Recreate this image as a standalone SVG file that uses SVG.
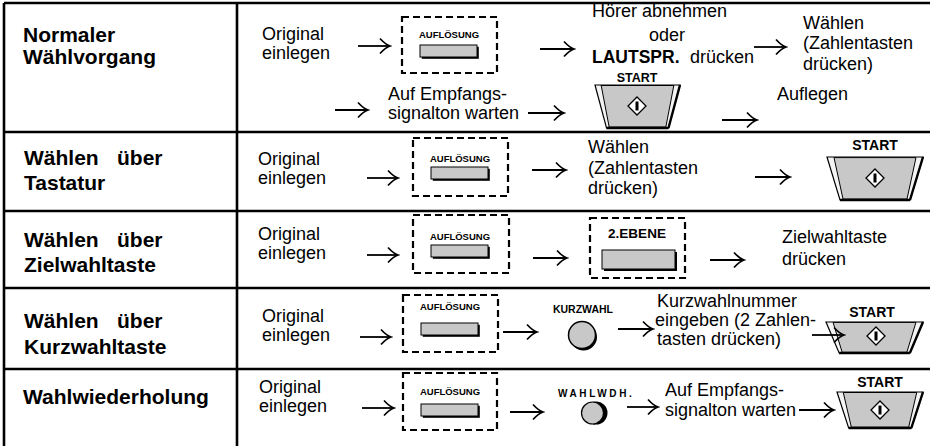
<svg xmlns="http://www.w3.org/2000/svg" width="930" height="446" viewBox="0 0 930 446">
<style>
text{font-family:"Liberation Sans",Arial,Helvetica,sans-serif;fill:#000}
.t{font-size:18px}
.h{font-size:21px;font-weight:bold}
.k{font-weight:bold;font-size:9.5px;text-anchor:middle}
.s{font-weight:bold;font-size:14px;text-anchor:middle}
.grid{stroke:#000;stroke-width:2.6;fill:none}
.dash{fill:none;stroke:#000;stroke-width:2.2;stroke-dasharray:7 4}
.arr{fill:none;stroke:#000;stroke-width:1.8;marker-end:url(#ah)}
.btn{fill:#c8c8c8;stroke:#000;stroke-width:1}
.sh{fill:#000}
</style>
<defs>
<marker id="ah" markerUnits="userSpaceOnUse" viewBox="-12 -9 14 18" markerWidth="14" markerHeight="18" refX="0" refY="0" orient="auto">
<path d="M-10,-7.5 Q-4.5,-1.5 0,0 Q-4.5,1.5 -10,7.5" fill="none" stroke="#000" stroke-width="1.7"/>
</marker>
<symbol id="startbody" viewBox="0 0 96 43" preserveAspectRatio="none" overflow="visible">
<polygon points="0,0 96,0 83,43 13,43" fill="#f4f4f4" stroke="#000" stroke-width="1.2" vector-effect="non-scaling-stroke"/>
<polygon points="7,0.6 89,0.6 80,42 16,42" fill="#c8c8c8" stroke="#000" stroke-width="1" vector-effect="non-scaling-stroke"/>
<path d="M13,43 H83 M96,0 L83,43" stroke="#000" stroke-width="2.4" fill="none" vector-effect="non-scaling-stroke"/>
</symbol>
<g id="diamond">
<polygon points="0,-9 9,0 0,9 -9,0" fill="#fff" stroke="#000" stroke-width="1.3"/>
<path d="M0,-4.5 V4.5" stroke="#000" stroke-width="3"/>
</g>
<g id="aufbtn">
<rect x="1.8" y="1.8" width="57" height="12" class="sh"/>
<rect x="0" y="0" width="57" height="12" class="btn"/>
</g>
</defs>

<g id="table">
<path class="grid" d="M4,3 H930 M4,3 V446 M237,3 V446 M4,132 H930 M4,211 H930 M4,288 H930 M4,369 H930"/>
</g>

<!-- Row 1 -->
<g id="r1-title"><text class="h" x="23" y="42">Normaler</text><text class="h" x="23" y="64">Wählvorgang</text></g>
<g id="r1-original"><text class="t" x="262" y="40">Original</text><text class="t" x="262" y="59">einlegen</text></g>
<g id="r1-aufl">
<rect class="dash" x="402" y="17" width="95" height="56"/>
<text class="k" x="449" y="38">AUFLÖSUNG</text>
<use href="#aufbtn" x="420" y="45"/>
</g>
<g id="r1-hoerer">
<text class="t" x="592" y="17">Hörer abnehmen</text>
<text class="t" x="667" y="41" text-anchor="middle">oder</text>
<text x="592" y="63" style="font-size:17.5px;font-weight:bold">LAUTSPR.</text>
<text class="t" x="690" y="63">drücken</text>
</g>
<g id="r1-waehlen"><text class="t" x="803" y="29">Wählen</text><text class="t" x="803" y="49">(Zahlentasten</text><text class="t" x="803" y="70">drücken)</text></g>
<g id="r1-signal"><text class="t" x="388" y="100">Auf Empfangs-</text><text class="t" x="388" y="119">signalton warten</text></g>
<g id="r1-start">
<text class="s" x="637" y="82" style="font-size:12.5px">START</text>
<use href="#startbody" x="595" y="85" width="85" height="43"/>
<use href="#diamond" x="637" y="106"/>
</g>
<g id="r1-auflegen"><text class="t" x="777" y="100">Auflegen</text></g>

<!-- Row 2 -->
<g id="r2-title"><text class="h" x="24" y="165">Wählen<tspan x="117">über</tspan></text><text class="h" x="24" y="190">Tastatur</text></g>
<g id="r2-original"><text class="t" x="258" y="165">Original</text><text class="t" x="258" y="184">einlegen</text></g>
<g id="r2-aufl">
<rect class="dash" x="413" y="138" width="95" height="58"/>
<text class="k" x="460" y="162">AUFLÖSUNG</text>
<use href="#aufbtn" x="431" y="167"/>
</g>
<g id="r2-waehlen"><text class="t" x="588" y="153">Wählen</text><text class="t" x="588" y="174">(Zahlentasten</text><text class="t" x="588" y="194">drücken)</text></g>
<g id="r2-start">
<text class="s" x="875" y="150">START</text>
<use href="#startbody" x="827" y="157" width="96" height="43"/>
<use href="#diamond" x="875" y="178"/>
</g>

<!-- Row 3 -->
<g id="r3-title"><text class="h" x="24" y="247">Wählen<tspan x="117">über</tspan></text><text class="h" x="24" y="272">Zielwahltaste</text></g>
<g id="r3-original"><text class="t" x="258" y="240">Original</text><text class="t" x="258" y="259">einlegen</text></g>
<g id="r3-aufl">
<rect class="dash" x="413" y="215" width="96" height="58"/>
<text class="k" x="460" y="240">AUFLÖSUNG</text>
<use href="#aufbtn" x="431" y="245"/>
</g>
<g id="r3-ebene">
<rect class="dash" x="590" y="218" width="95" height="60"/>
<text class="s" x="637" y="238" style="font-size:13.5px">2.EBENE</text>
<rect x="604" y="252" width="73" height="19" class="sh"/>
<rect x="602" y="250" width="73" height="19" class="btn"/>
</g>
<g id="r3-ziel"><text class="t" x="782" y="243">Zielwahltaste</text><text class="t" x="782" y="265">drücken</text></g>

<!-- Row 4 -->
<g id="r4-title"><text class="h" x="24" y="328">Wählen<tspan x="117">über</tspan></text><text class="h" x="24" y="354">Kurzwahltaste</text></g>
<g id="r4-original"><text class="t" x="262" y="322">Original</text><text class="t" x="262" y="341">einlegen</text></g>
<g id="r4-aufl">
<rect class="dash" x="403" y="295" width="95" height="57"/>
<text class="k" x="450" y="310">AUFLÖSUNG</text>
<use href="#aufbtn" x="421" y="323"/>
</g>
<g id="r4-kurzwahl">
<text class="k" x="583" y="313" style="font-size:10.5px">KURZWAHL</text>
<circle cx="583.5" cy="337" r="13.5" class="sh"/>
<circle cx="582" cy="335" r="13.5" fill="#c8c8c8" stroke="#000" stroke-width="1.5"/>
</g>
<g id="r4-nummer"><text class="t" x="657" y="307">Kurzwahlnummer</text><text class="t" x="655" y="326">eingeben (2 Zahlen-</text><text class="t" x="657" y="345">tasten drücken)</text></g>
<g id="r4-start">
<text class="s" x="872" y="317">START</text>
<use href="#startbody" x="826" y="322" width="97" height="31"/>
<use href="#diamond" x="876" y="336"/>
</g>

<!-- Row 5 -->
<g id="r5-title"><text class="h" x="23" y="404">Wahlwiederholung</text></g>
<g id="r5-original"><text class="t" x="259" y="393">Original</text><text class="t" x="259" y="412">einlegen</text></g>
<g id="r5-aufl">
<rect class="dash" x="403" y="373" width="94" height="57"/>
<text class="k" x="450" y="395">AUFLÖSUNG</text>
<use href="#aufbtn" x="421" y="404"/>
</g>
<g id="r5-wahlwdh">
<text x="558" y="397" style="font-size:10px;font-weight:bold;letter-spacing:2.6px">WAHLWDH.</text>
<circle cx="596" cy="413" r="11.5" class="sh"/>
<circle cx="592.5" cy="413" r="11" fill="#c8c8c8" stroke="#000" stroke-width="1.2"/>
</g>
<g id="r5-signal"><text class="t" x="665" y="396">Auf Empfangs-</text><text class="t" x="665" y="416">signalton warten</text></g>
<g id="r5-start">
<text class="s" x="880" y="387">START</text>
<use href="#startbody" x="837" y="392" width="86" height="36"/>
<use href="#diamond" x="880" y="410"/>
</g>

<g id="connectors">
<path class="arr" d="M358,46 H390"/>
<path class="arr" d="M540,49 H574"/>
<path class="arr" d="M754,47 H786"/>
<path class="arr" d="M335,110 H368"/>
<path class="arr" d="M528,113 H564"/>
<path class="arr" d="M722,120 H757"/>
<path class="arr" d="M367,178 H398"/>
<path class="arr" d="M532,170 H566"/>
<path class="arr" d="M755,177 H790"/>
<path class="arr" d="M367,255 H398"/>
<path class="arr" d="M533,258 H567"/>
<path class="arr" d="M710,260 H744"/>
<path class="arr" d="M360,337 H391"/>
<path class="arr" d="M503,332 H537"/>
<path class="arr" d="M618,329 H653"/>
<path class="arr" d="M812,335 H844"/>
<path class="arr" d="M362,408 H394"/>
<path class="arr" d="M510,412 H543"/>
<path class="arr" d="M627,407 H658"/>
<path class="arr" d="M799,410 H834"/>
</g>
</svg>
